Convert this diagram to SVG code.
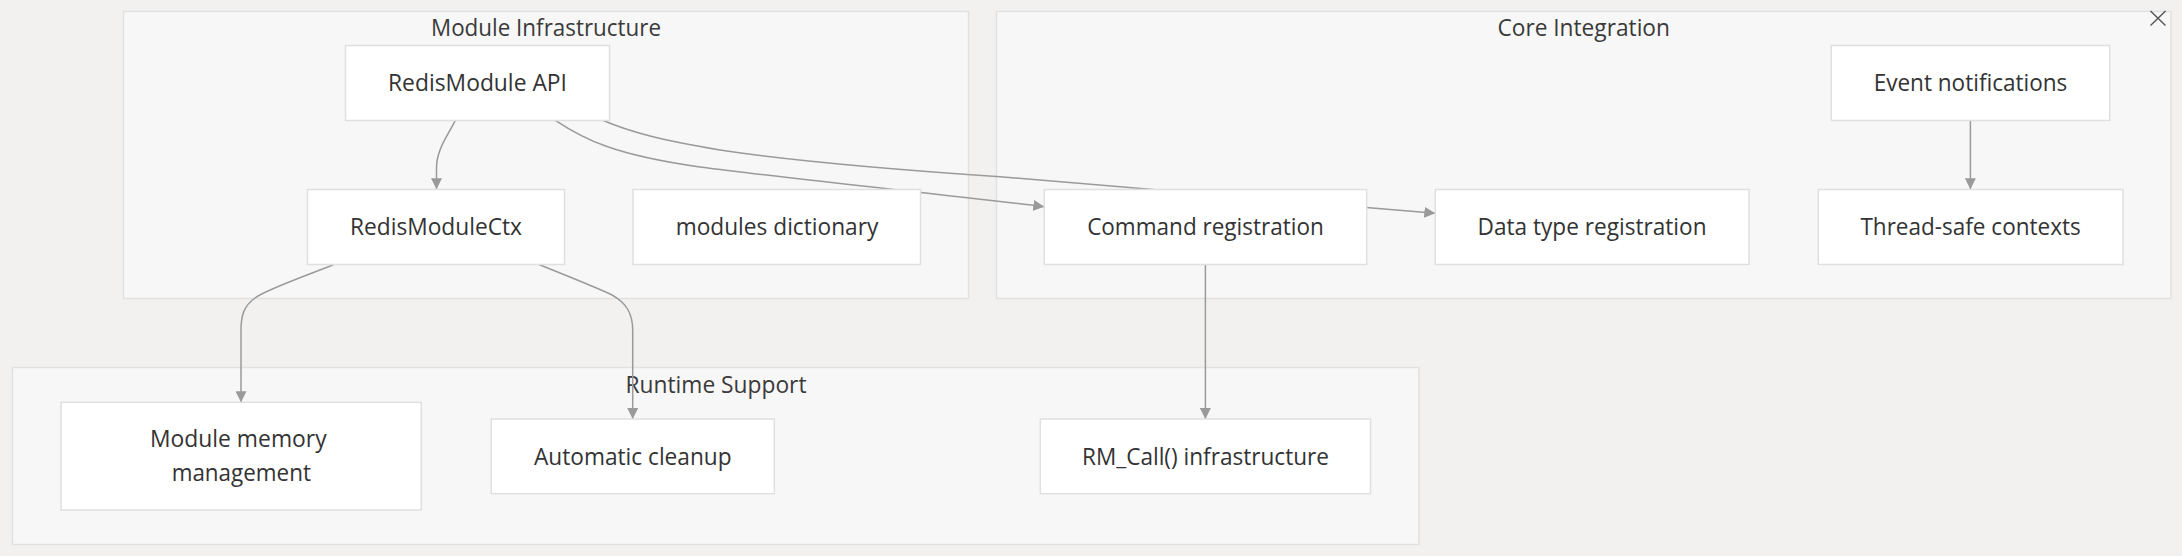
<svg xmlns="http://www.w3.org/2000/svg" width="2182" height="556" viewBox="0 0 2182 556">
<style>
  .bg { fill: #f2f1f0; }
  .cluster { fill: #f7f7f7; stroke: #e1e1e1; stroke-width: 1.5; }
  .node rect { fill: #ffffff; stroke: #e0e0e0; stroke-width: 1.5; }
  text { font-family: "Open Sans", "Noto Sans", "DejaVu Sans", sans-serif; font-size: 23px; fill: #333333; text-anchor: middle; }
  .ctitle { fill: #3a3a3a; }
  .edge { fill: none; stroke: #9a9a9a; stroke-width: 1.5; }
  .close { stroke: #555555; stroke-width: 1.4; fill: none; }
</style>
<defs>
  <marker id="arrow" viewBox="0 0 10 10" refX="10" refY="5" markerUnits="userSpaceOnUse" markerWidth="11" markerHeight="11" orient="auto">
    <path d="M0,0 L10,5 L0,10 z" fill="#9a9a9a"/>
  </marker>
</defs>
<rect class="bg" x="0" y="0" width="2182" height="556"/>

<g id="clusters">
  <g id="cluster-module-infrastructure">
    <rect class="cluster" x="123.5" y="11.5" width="845" height="287"/>
    <text class="ctitle" x="546" y="36" textLength="230" lengthAdjust="spacingAndGlyphs">Module Infrastructure</text>
  </g>
  <g id="cluster-core-integration">
    <rect class="cluster" x="996.5" y="11.5" width="1174.5" height="287"/>
    <text class="ctitle" x="1583.7" y="36" textLength="172.5" lengthAdjust="spacingAndGlyphs">Core Integration</text>
  </g>
  <g id="cluster-runtime-support">
    <rect class="cluster" x="12.5" y="367.5" width="1406.5" height="177"/>
    <text class="ctitle" x="716" y="393.3" textLength="181" lengthAdjust="spacingAndGlyphs">Runtime Support</text>
  </g>
</g>

<g id="connectors">
  <path class="edge" d="M455.3,120.3 C447,137 436.5,150 436.5,168 L436.5,189.3" marker-end="url(#arrow)"/>
  <path class="edge" d="M555.3,120.3 C585,140 615,155 700,167 C800,180 950,195 1044.3,206.7" marker-end="url(#arrow)"/>
  <path class="edge" d="M602.7,120.3 C630,132 660,140 720,150 C800,162 900,170 1000,176.7 L1435.3,213.3" marker-end="url(#arrow)"/>
  <path class="edge" d="M1970.4,120.3 L1970.4,189.3" marker-end="url(#arrow)"/>
  <path class="edge" d="M1205.4,264.3 L1205.4,419" marker-end="url(#arrow)"/>
  <path class="edge" d="M333.3,264.7 C300,278 265,290 255,298 C244,306 241,315 241,330 L241,402.3" marker-end="url(#arrow)"/>
  <path class="edge" d="M539.3,264.7 C570,277 600,289 612,295 C625,302 632.7,312 632.7,330 L632.7,419" marker-end="url(#arrow)"/>
</g>

<g id="node-redismodule-api" class="node">
  <rect x="345.5" y="45.5" width="264" height="75"/>
  <text x="477.5" y="90.7" textLength="179" lengthAdjust="spacingAndGlyphs">RedisModule API</text>
</g>
<g id="node-redismodulectx" class="node">
  <rect x="307.5" y="189.5" width="257" height="75"/>
  <text x="436" y="235" textLength="172" lengthAdjust="spacingAndGlyphs">RedisModuleCtx</text>
</g>
<g id="node-modules-dictionary" class="node">
  <rect x="633" y="189.5" width="287.5" height="75"/>
  <text x="777" y="235" textLength="202.7" lengthAdjust="spacingAndGlyphs">modules dictionary</text>
</g>
<g id="node-command-registration" class="node">
  <rect x="1044.3" y="189.5" width="322.4" height="75"/>
  <text x="1205.5" y="235" textLength="236.7" lengthAdjust="spacingAndGlyphs">Command registration</text>
</g>
<g id="node-data-type-registration" class="node">
  <rect x="1435.3" y="189.5" width="313.7" height="75"/>
  <text x="1592" y="235" textLength="229" lengthAdjust="spacingAndGlyphs">Data type registration</text>
</g>
<g id="node-event-notifications" class="node">
  <rect x="1831.3" y="45.5" width="278.4" height="75"/>
  <text x="1970.5" y="90.7" textLength="193.7" lengthAdjust="spacingAndGlyphs">Event notifications</text>
</g>
<g id="node-thread-safe-contexts" class="node">
  <rect x="1818.3" y="189.5" width="304.7" height="75"/>
  <text x="1970.6" y="235" textLength="220.3" lengthAdjust="spacingAndGlyphs">Thread-safe contexts</text>
</g>
<g id="node-module-memory-management" class="node">
  <rect x="61" y="402.3" width="360.3" height="107.7"/>
  <text x="238.3" y="447.3" textLength="176.7" lengthAdjust="spacingAndGlyphs">Module memory</text>
  <text x="241.3" y="480.7" textLength="139.3" lengthAdjust="spacingAndGlyphs">management</text>
</g>
<g id="node-automatic-cleanup" class="node">
  <rect x="491.3" y="419" width="283" height="74.7"/>
  <text x="632.8" y="465" textLength="197.7" lengthAdjust="spacingAndGlyphs">Automatic cleanup</text>
</g>
<g id="node-rm-call-infrastructure" class="node">
  <rect x="1040.3" y="419" width="330.2" height="74.7"/>
  <text x="1205.5" y="465" textLength="247" lengthAdjust="spacingAndGlyphs">RM_Call() infrastructure</text>
</g>

<g id="close-icon">
  <path class="close" d="M2150.5,11 L2165.5,25.5 M2165.5,11 L2150.5,25.5"/>
</g>
</svg>
